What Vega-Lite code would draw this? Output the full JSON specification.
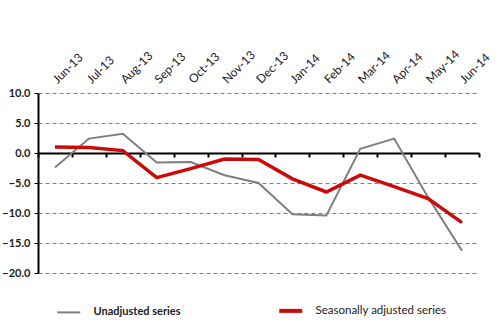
{
  "$schema": "https://vega.github.io/schema/vega-lite/v6.json",
  "autosize": "none",
  "width": 441,
  "height": 180,
  "padding": {"left": 38, "top": 93, "right": 21, "bottom": 60},
  "background": "white",
  "config": {
    "view": {"stroke": null},
    "font": "Lato"
  },
  "data": {
    "values": [
      {"month": "Jun-13", "series": "Unadjusted series", "value": -2.4},
      {"month": "Jul-13", "series": "Unadjusted series", "value": 2.4},
      {"month": "Aug-13", "series": "Unadjusted series", "value": 3.2},
      {"month": "Sep-13", "series": "Unadjusted series", "value": -1.6},
      {"month": "Oct-13", "series": "Unadjusted series", "value": -1.5},
      {"month": "Nov-13", "series": "Unadjusted series", "value": -3.7},
      {"month": "Dec-13", "series": "Unadjusted series", "value": -5.0},
      {"month": "Jan-14", "series": "Unadjusted series", "value": -10.2},
      {"month": "Feb-14", "series": "Unadjusted series", "value": -10.4},
      {"month": "Mar-14", "series": "Unadjusted series", "value": 0.7},
      {"month": "Apr-14", "series": "Unadjusted series", "value": 2.4},
      {"month": "May-14", "series": "Unadjusted series", "value": -7.4},
      {"month": "Jun-14", "series": "Unadjusted series", "value": -16.3},
      {"month": "Jun-13", "series": "Seasonally adjusted series", "value": 1.0},
      {"month": "Jul-13", "series": "Seasonally adjusted series", "value": 0.9},
      {"month": "Aug-13", "series": "Seasonally adjusted series", "value": 0.4},
      {"month": "Sep-13", "series": "Seasonally adjusted series", "value": -4.1},
      {"month": "Oct-13", "series": "Seasonally adjusted series", "value": -2.6},
      {"month": "Nov-13", "series": "Seasonally adjusted series", "value": -1.0},
      {"month": "Dec-13", "series": "Seasonally adjusted series", "value": -1.1},
      {"month": "Jan-14", "series": "Seasonally adjusted series", "value": -4.3},
      {"month": "Feb-14", "series": "Seasonally adjusted series", "value": -6.5},
      {"month": "Mar-14", "series": "Seasonally adjusted series", "value": -3.7},
      {"month": "Apr-14", "series": "Seasonally adjusted series", "value": -5.6},
      {"month": "May-14", "series": "Seasonally adjusted series", "value": -7.6},
      {"month": "Jun-14", "series": "Seasonally adjusted series", "value": -11.6}
    ]
  },
  "resolve": {"axis": {"x": "independent"}},
  "encoding": {
    "y": {
      "field": "value", "type": "quantitative",
      "scale": {"domain": [-20, 10], "nice": false, "zero": false},
      "axis": {
        "title": null, "values": [-20, -15, -10, -5, 0, 5, 10], "format": ".1f",
        "labelOverlap": false,
        "domainColor": "#000000", "domainWidth": 2,
        "tickColor": "#000000", "tickSize": 4, "tickWidth": 1,
        "labelFontSize": 11, "labelFontWeight": "bold", "labelColor": "#222222",
        "labelPadding": 4,
        "grid": true, "gridColor": "#808080", "gridDash": [4, 3], "gridWidth": 1
      }
    },
    "color": {
      "field": "series", "type": "nominal",
      "scale": {"domain": ["Unadjusted series", "Seasonally adjusted series"], "range": ["#7f7f7f", "#cc0a0a"]},
      "legend": {
        "title": null, "orient": "none", "direction": "horizontal",
        "legendX": 25, "legendY": 212,
        "symbolType": "stroke", "symbolSize": 529,
        "labelFontSize": 11.5, "labelColor": "#222222", "labelOffset": 19,
        "columnPadding": 90,
        "encode": {
          "symbols": {"update": {"strokeWidth": {"signal": "datum.value === 'Seasonally adjusted series' ? 4 : 2"}}},
          "labels": {"update": {
            "fontWeight": {"signal": "datum.value === 'Unadjusted series' ? 'bold' : 'normal'"},
            "fontSize": {"signal": "datum.value === 'Unadjusted series' ? 11 : 11.5"}
          }}
        }
      }
    }
  },
  "layer": [
    {
      "transform": [{"filter": "datum.series === 'Unadjusted series'"}],
      "mark": {"type": "line", "strokeWidth": 2},
      "encoding": {
        "x": {
          "field": "month", "type": "ordinal", "sort": null,
          "scale": {"type": "band", "paddingInner": 0, "paddingOuter": 0},
          "axis": {
            "orient": "top", "title": null, "domain": false, "ticks": false,
            "labelAngle": -45, "labelAlign": "left", "labelBaseline": "middle",
            "labelPadding": 12, "labelFontSize": 12, "labelColor": "#222222",
            "labelFont": "Lato"
          }
        }
      }
    },
    {
      "transform": [{"filter": "datum.series === 'Seasonally adjusted series'"}],
      "mark": {"type": "line", "strokeWidth": 3.5},
      "encoding": {
        "x": {
          "field": "month", "type": "ordinal", "sort": null,
          "axis": {
            "orient": "bottom", "offset": -120, "title": null, "labels": false,
            "bandPosition": 0, "tickBand": "extent",
            "domainColor": "#000000", "domainWidth": 2,
            "tickColor": "#000000", "tickSize": 4, "tickWidth": 2
          }
        }
      }
    }
  ]
}
